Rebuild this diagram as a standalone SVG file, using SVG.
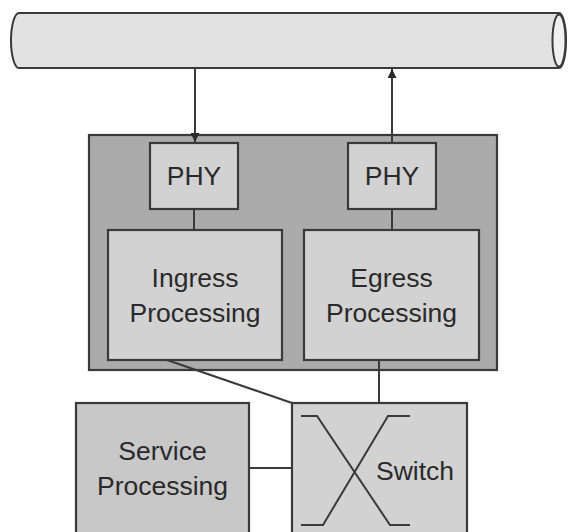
<svg xmlns="http://www.w3.org/2000/svg" width="568" height="532" viewBox="0 0 568 532">
<style>
text{font-family:"Liberation Sans",Arial,sans-serif;font-size:26.5px;fill:#2a2a2a;text-anchor:middle}
.box{stroke:#3a3a3a;stroke-width:2.2}
.in{fill:#d2d2d2}
.ln{stroke:#3a3a3a;stroke-width:2;fill:none}
</style>
<defs>
<marker id="ah" viewBox="0 0 10 10" refX="10" refY="5" markerWidth="6" markerHeight="4.5" orient="auto" markerUnits="strokeWidth"><path d="M0,0 L10,5 L0,10 Z" fill="#2a2a2a"/></marker>
</defs>
<g id="pipe">
<path d="M19,13 H559 A7,27.5 0 0 1 559,68 H19 A8,27.5 0 0 1 19,13 Z" fill="#e2e2e2" stroke="#3a3a3a" stroke-width="2"/>
<ellipse cx="559" cy="40.5" rx="6.5" ry="26" fill="#f0f0f0" stroke="#3a3a3a" stroke-width="2"/>
</g>
<g id="linecard">
<rect class="box" x="89" y="135" width="408" height="235" fill="#ababab"/>
</g>
<g id="phy-in">
<rect class="box in" x="150" y="143" width="88" height="66"/>
<text x="194" y="185">PHY</text>
</g>
<g id="phy-out">
<rect class="box in" x="348" y="143" width="88" height="66"/>
<text x="392" y="185">PHY</text>
</g>
<g id="ingress">
<rect class="box in" x="108" y="230" width="174" height="130"/>
<text x="195" y="287">Ingress</text>
<text x="195" y="322">Processing</text>
</g>
<g id="egress">
<rect class="box in" x="304" y="230" width="175" height="130"/>
<text x="391.5" y="287">Egress</text>
<text x="391.5" y="322">Processing</text>
</g>
<g id="service">
<rect class="box" x="76" y="403" width="173" height="140" fill="#c8c8c8"/>
<text x="162.5" y="460">Service</text>
<text x="162.5" y="495">Processing</text>
</g>
<g id="switch">
<rect class="box in" x="292" y="403" width="175" height="140"/>
<path class="ln" d="M301,416 H317 L390,525 H410 M410,416 H388 L323,525 H301"/>
<text x="415" y="480">Switch</text>
</g>
<g id="connectors">
<line class="ln" x1="195" y1="68" x2="195" y2="142" marker-end="url(#ah)"/>
<line class="ln" x1="392" y1="143" x2="392" y2="69" marker-end="url(#ah)"/>
<line class="ln" x1="194" y1="209" x2="194" y2="230"/>
<line class="ln" x1="392" y1="209" x2="392" y2="230"/>
<line class="ln" x1="167" y1="360" x2="292" y2="403"/>
<line class="ln" x1="379" y1="360" x2="379" y2="403"/>
<line class="ln" x1="249" y1="468" x2="292" y2="468"/>
</g>
</svg>
